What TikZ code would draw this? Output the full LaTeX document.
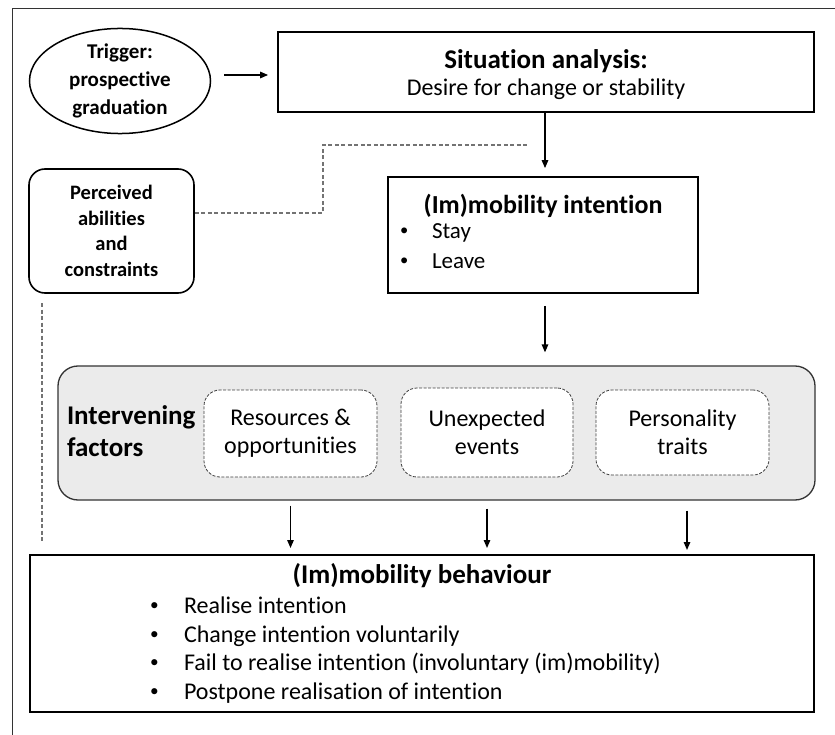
\documentclass[tikz,border=0pt]{standalone}
\usepackage{fontspec}
\setmainfont{Carlito}[Ligatures={NoCommon}]
\usetikzlibrary{arrows.meta,shapes.geometric}
\newcommand{\smallbullet}{\raisebox{0.12em}{\scalebox{0.72}{•}}}
\tikzset{
  box/.style={draw=black, line width=1.8pt, inner sep=0pt},
  softbox/.style={draw=black, line width=1.6pt, rounded corners=16pt, inner sep=0pt},
  factorbox/.style={draw=black!75, line width=0.8pt, dash pattern=on 3pt off 1.5pt, rounded corners=16pt, fill=white, inner sep=0pt, align=center, font=\fontsize{24}{28}\selectfont},
  arr/.style={draw=black, line width=1.4pt, -{Triangle[length=8pt,width=6.5pt]}},
  dashconn/.style={draw=black!55, line width=1.3pt, dash pattern=on 4pt off 2.5pt},
  lbl/.style={inner sep=0pt, outer sep=0pt},
}
\begin{document}
\begin{tikzpicture}[x=1pt,y=-1pt]
\useasboundingbox (0,0) rectangle (835,735);
\fill[white] (0,0) rectangle (835,735);
% frame
\draw[line width=1pt, black!80] (12,735) -- (12,9) -- (835,9);

% nodes
\node[ellipse, draw=black, line width=1.5pt, minimum width=181pt, minimum height=95pt, inner sep=0pt, align=center,
      font=\bfseries\fontsize{21}{28}\selectfont] (trig) at (120,81) {Trigger:\\prospective\\graduation};

\node[box, minimum width=536pt, minimum height=80pt] (sit) at (546,72) {};
\node[lbl, font=\bfseries\fontsize{27}{30}\selectfont] (sittitle) at (546,61) {Situation analysis:};
\node[lbl, font=\fontsize{24}{28}\selectfont] (sitbody) at (546,89) {Desire for change or stability};

\node[box, minimum width=310pt, minimum height=116pt] (intent) at (543,235) {};
\node[lbl, font=\bfseries\fontsize{26}{30}\selectfont] (inttitle) at (543,206) {(Im)mobility intention};
\node[lbl, anchor=west, align=left, font=\fontsize{23}{30}\selectfont] (intlist) at (400,246)
  {\makebox[32pt][l]{\smallbullet}Stay\\\makebox[32pt][l]{\smallbullet}Leave};

\node[softbox, minimum width=165pt, minimum height=124pt, align=center,
      font=\bfseries\fontsize{20.5}{25.5}\selectfont] (perc) at (111.5,231) {Perceived\\abilities\\and\\constraints};

\node[draw=black!80, line width=1.3pt, rounded corners=20pt, fill=black!8, minimum width=757pt, minimum height=134pt, inner sep=0pt] (gray) at (436.5,433) {};
\node[lbl, anchor=west, align=left, font=\bfseries\fontsize{27}{32}\selectfont] (interv) at (67,431) {Intervening\\factors};
\node[factorbox, minimum width=173pt, minimum height=87pt] (res) at (290.5,433.5) {Resources \&\\opportunities};
\node[factorbox, minimum width=172pt, minimum height=89pt] (unex) at (487,432.5) {Unexpected\\events};
\node[factorbox, minimum width=173pt, minimum height=85pt] (pers) at (682.5,432.5) {Personality\\traits};

\node[box, line width=2pt, minimum width=784pt, minimum height=157pt] (beh) at (422,633.5) {};
\node[lbl, font=\bfseries\fontsize{27}{30}\selectfont] (behtitle) at (422,576) {(Im)mobility behaviour};
\node[lbl, anchor=west, align=left, font=\fontsize{24}{28.7}\selectfont] (behlist) at (150,650)
  {\makebox[34pt][l]{\smallbullet}Realise intention\\
   \makebox[34pt][l]{\smallbullet}Change intention voluntarily\\
   \makebox[34pt][l]{\smallbullet}Fail to realise intention (involuntary (im)mobility)\\
   \makebox[34pt][l]{\smallbullet}Postpone realisation of intention};

% coordinates for free ends
\coordinate (dashend) at (528,145);
\coordinate (dashbend) at (323,145);
\coordinate (vdashtop) at (42,303);
\coordinate (vdashbot) at (42,543);

% connectors
\draw[arr] ([yshift=6pt,xshift=13pt]trig.east) -- ([yshift=-3pt,xshift=-9pt]sit.west);
\draw[arr, shorten >=8pt] ([xshift=-1pt]sit.south) -- ([xshift=2pt]intent.north);
\draw[arr, shorten <=12pt, shorten >=13pt] ([xshift=2pt]intent.south) -- ([xshift=108.5pt]gray.north);
\draw[arr, shorten <=5pt, shorten >=6pt] (gray.south -| res.south) -- (beh.north -| res.south);
\draw[arr, shorten <=8pt, shorten >=6pt] (gray.south -| unex.south) -- (beh.north -| unex.south);
\draw[arr, shorten <=10pt, shorten >=4pt] ([xshift=4.5pt]gray.south -| pers.south) -- ([xshift=4.5pt]beh.north -| pers.south);

\draw[dashconn] ([yshift=18pt]perc.east) -| (dashbend) -- (dashend);
\draw[dashconn] (vdashtop) -- (vdashbot);
\end{tikzpicture}
\end{document}
